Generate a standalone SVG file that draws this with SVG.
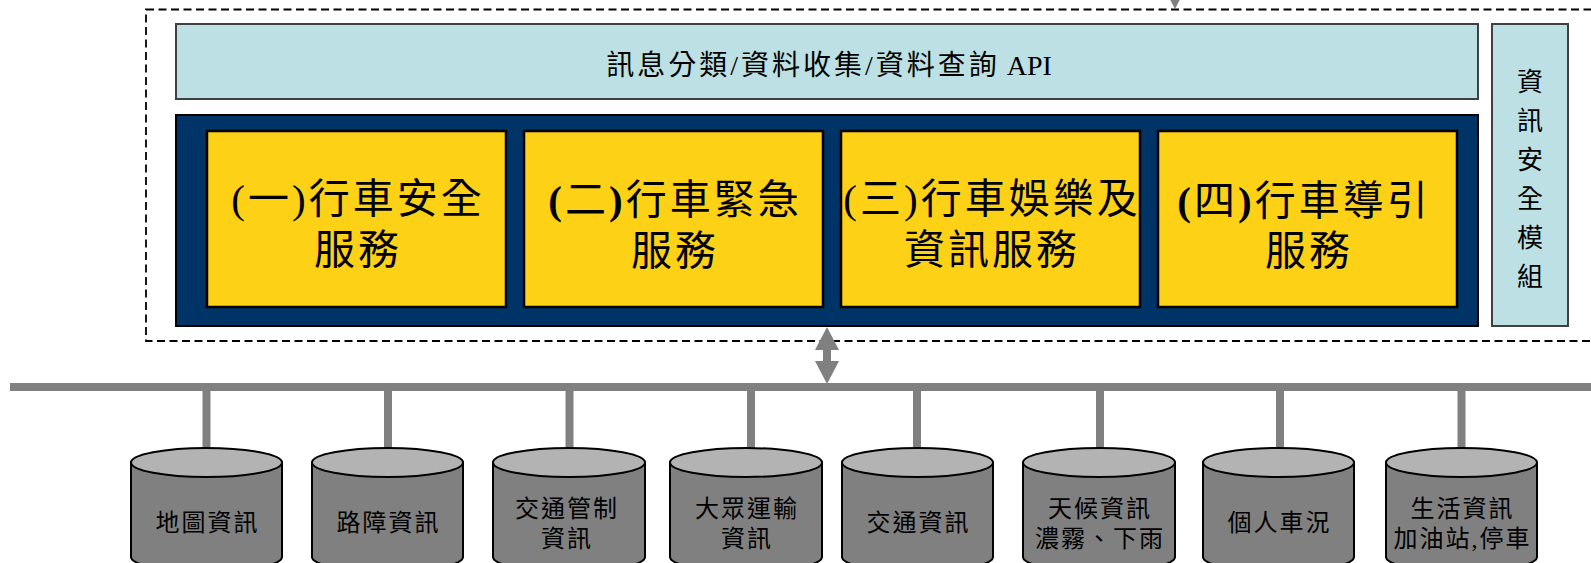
<svg xmlns="http://www.w3.org/2000/svg" width="1591" height="563" viewBox="0 0 1591 563">
<defs>
<style>
.txt{font-family:"Liberation Serif","Noto Sans CJK TC",serif;fill:#000;text-anchor:middle}
.big{font-size:41px;letter-spacing:3px}
.bar{font-size:28px;letter-spacing:3px}
.vert{font-size:26px}
.db{font-size:24px;letter-spacing:2px}
.yel{fill:#FDD115;stroke:#000;stroke-width:2.5}
.lb{fill:#BCE0E3;stroke:#404040;stroke-width:2}
.cylbody{fill:#808080;stroke:#000;stroke-width:2}
.cyltop{fill:#B3B3B3;stroke:#000;stroke-width:2}
.gray{stroke:#808080;fill:none}
.b{font-weight:bold}
.ns{letter-spacing:0}
</style>
<marker id="ah" markerUnits="userSpaceOnUse" markerWidth="24" markerHeight="24" viewBox="0 0 22 23" refX="0" refY="11.5" orient="auto-start-reverse">
<path d="M0,0 L22,11.5 L0,23 z" fill="#808080"/>
</marker>
</defs>
<rect width="1591" height="563" fill="#fff"/>

<g id="platform">
<rect x="146" y="9.5" width="1500" height="331.5" fill="none" stroke="#000" stroke-width="1.8" stroke-dasharray="8 4.5"/>
</g>

<g id="api-bar">
<rect class="lb" x="176" y="24" width="1302" height="75"/>
<text class="txt bar" x="829" y="75">訊息分類/資料收集/資料查詢<tspan class="ns"> API</tspan></text>
</g>

<g id="security-module">
<rect class="lb" x="1492" y="24" width="76" height="302"/>
<text class="txt vert" x="1530" y="91">資</text>
<text class="txt vert" x="1530" y="130">訊</text>
<text class="txt vert" x="1530" y="169">安</text>
<text class="txt vert" x="1530" y="208">全</text>
<text class="txt vert" x="1530" y="247">模</text>
<text class="txt vert" x="1530" y="286">組</text>
</g>

<g id="services">
<rect x="176" y="115" width="1302" height="211" fill="#003366" stroke="#000" stroke-width="2"/>
</g>

<g id="svc1">
<rect class="yel" x="207" y="131" width="299" height="176"/>
<text class="txt big" x="358" y="213">(一)行車安全</text>
<text class="txt big" x="358" y="264">服務</text>
</g>
<g id="svc2">
<rect class="yel" x="524" y="131" width="299" height="176"/>
<text class="txt big" x="675" y="214"><tspan class="b">(</tspan>二<tspan class="b">)</tspan>行車緊急</text>
<text class="txt big" x="675" y="265">服務</text>
</g>
<g id="svc3">
<rect class="yel" x="841" y="131" width="299" height="176"/>
<text class="txt big" x="992" y="213">(三)行車娛樂及</text>
<text class="txt big" x="992" y="264">資訊服務</text>
</g>
<g id="svc4">
<rect class="yel" x="1158" y="131" width="299" height="176"/>
<text class="txt big" x="1304" y="215"><tspan class="b">(</tspan>四<tspan class="b">)</tspan>行車導引</text>
<text class="txt big" x="1309" y="265">服務</text>
</g>

<g id="connectors">
<line class="gray" x1="1175" y1="-40" x2="1175" y2="-14" stroke-width="8" marker-end="url(#ah)"/>
<line class="gray" x1="827" y1="350" x2="827" y2="361" stroke-width="8" marker-start="url(#ah)" marker-end="url(#ah)"/>
<line class="gray" x1="10" y1="387" x2="1591" y2="387" stroke-width="8"/>
<line class="gray" x1="206.5" y1="391" x2="206.5" y2="449" stroke-width="8"/>
<line class="gray" x1="388" y1="391" x2="388" y2="449" stroke-width="8"/>
<line class="gray" x1="569.5" y1="391" x2="569.5" y2="449" stroke-width="8"/>
<line class="gray" x1="751" y1="391" x2="751" y2="449" stroke-width="8"/>
<line class="gray" x1="917" y1="391" x2="917" y2="449" stroke-width="8"/>
<line class="gray" x1="1100" y1="391" x2="1100" y2="449" stroke-width="8"/>
<line class="gray" x1="1280" y1="391" x2="1280" y2="449" stroke-width="8"/>
<line class="gray" x1="1461.5" y1="391" x2="1461.5" y2="449" stroke-width="8"/>
</g>

<g id="db1">
<path class="cylbody" d="M131,462.5 L131,557 A75.5,14.5 0 0 0 282,557 L282,462.5 Z"/>
<ellipse class="cyltop" cx="206.5" cy="462.5" rx="75.5" ry="14.5"/>
<text class="txt db" x="207.5" y="531">地圖資訊</text>
</g>
<g id="db2">
<path class="cylbody" d="M312,462.5 L312,557 A75.5,14.5 0 0 0 463,557 L463,462.5 Z"/>
<ellipse class="cyltop" cx="387.5" cy="462.5" rx="75.5" ry="14.5"/>
<text class="txt db" x="388.5" y="531">路障資訊</text>
</g>
<g id="db3">
<path class="cylbody" d="M493,462.5 L493,557 A75.5,14.5 0 0 0 645,557 L645,462.5 Z"/>
<ellipse class="cyltop" cx="569" cy="462.5" rx="76" ry="14.5"/>
<text class="txt db" x="567" y="517">交通管制</text>
<text class="txt db" x="567" y="547">資訊</text>
</g>
<g id="db4">
<path class="cylbody" d="M670,462.5 L670,557 A76,14.5 0 0 0 822,557 L822,462.5 Z"/>
<ellipse class="cyltop" cx="746" cy="462.5" rx="76" ry="14.5"/>
<text class="txt db" x="747" y="517">大眾運輸</text>
<text class="txt db" x="747" y="547">資訊</text>
</g>
<g id="db5">
<path class="cylbody" d="M842,462.5 L842,557 A75.5,14.5 0 0 0 993,557 L993,462.5 Z"/>
<ellipse class="cyltop" cx="917.5" cy="462.5" rx="75.5" ry="14.5"/>
<text class="txt db" x="918.5" y="531">交通資訊</text>
</g>
<g id="db6">
<path class="cylbody" d="M1023,462.5 L1023,557 A76,14.5 0 0 0 1175,557 L1175,462.5 Z"/>
<ellipse class="cyltop" cx="1099" cy="462.5" rx="76" ry="14.5"/>
<text class="txt db" x="1100" y="517">天候資訊</text>
<text class="txt db" x="1100" y="547">濃霧、下雨</text>
</g>
<g id="db7">
<path class="cylbody" d="M1203,462.5 L1203,557 A75.5,14.5 0 0 0 1354,557 L1354,462.5 Z"/>
<ellipse class="cyltop" cx="1278.5" cy="462.5" rx="75.5" ry="14.5"/>
<text class="txt db" x="1279.5" y="531">個人車況</text>
</g>
<g id="db8">
<path class="cylbody" d="M1386,462.5 L1386,557 A75.5,14.5 0 0 0 1537,557 L1537,462.5 Z"/>
<ellipse class="cyltop" cx="1461.5" cy="462.5" rx="75.5" ry="14.5"/>
<text class="txt db" x="1462.5" y="517">生活資訊</text>
<text class="txt db" x="1462.5" y="547">加油站,停車</text>
</g>
</svg>
